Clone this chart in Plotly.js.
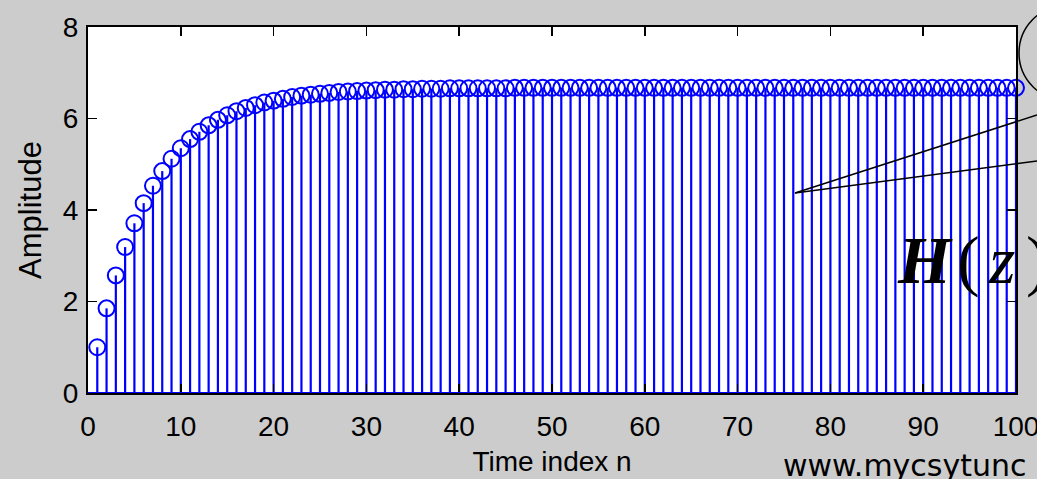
<!DOCTYPE html>
<html>
<head>
<meta charset="utf-8">
<script src="https://cdn.plot.ly/plotly-3.0.1.min.js"></script>
<style>
  html, body { margin: 0; padding: 0; background: #cccccc; }
  #chart { width: 1037px; height: 479px; }
</style>
</head>
<body>
<div id="chart"></div>
<script>
// ---- data ----
const timeIndex = Array.from({length: 100}, (_, i) => i + 1);
const amplitude = [
  1.00, 1.85, 2.57, 3.19, 3.71, 4.15, 4.53, 4.85, 5.12, 5.35,
  5.55, 5.71, 5.85, 5.97, 6.07, 6.16, 6.23, 6.29, 6.35, 6.39,
  6.43, 6.47, 6.50, 6.52, 6.54, 6.56, 6.58, 6.59, 6.60, 6.61,
  6.62, 6.63, 6.63, 6.64, 6.64, 6.65, 6.65, 6.65, 6.66, 6.66,
  6.66, 6.66, 6.66, 6.66, 6.66, 6.67, 6.67, 6.67, 6.67, 6.67,
  6.67, 6.67, 6.67, 6.67, 6.67, 6.67, 6.67, 6.67, 6.67, 6.67,
  6.67, 6.67, 6.67, 6.67, 6.67, 6.67, 6.67, 6.67, 6.67, 6.67,
  6.67, 6.67, 6.67, 6.67, 6.67, 6.67, 6.67, 6.67, 6.67, 6.67,
  6.67, 6.67, 6.67, 6.67, 6.67, 6.67, 6.67, 6.67, 6.67, 6.67,
  6.67, 6.67, 6.67, 6.67, 6.67, 6.67, 6.67, 6.67, 6.67, 6.67
];
const xTicks = [0, 10, 20, 30, 40, 50, 60, 70, 80, 90, 100];
const yTicks = [0, 2, 4, 6, 8];
const xLabel = 'Time index n';
const yLabel = 'Amplitude';
const formulaText = ['H', '(', 'z', ')'];
const urlText = 'www.mycsytunc';

// ---- geometry helpers (pixel -> paper) ----
const W = 1037, H = 479;
const M = {l: 88, r: 21, t: 27, b: 86};
const PW = W - M.l - M.r, PH = H - M.t - M.b;
const px = x => (x - M.l) / PW;
const py = y => (H - M.b - y) / PH;

// stems built from the data
const stemX = [], stemY = [];
timeIndex.forEach((n, i) => { stemX.push(n, n, null); stemY.push(0, amplitude[i], null); });

const BLUE = '#0000ff';
const sans = '"Liberation Sans", Arial, sans-serif';
const tickFont = {family: sans, size: 28, color: '#000'};
const xTitleFont = {family: sans, size: 28, color: '#000'};
const yTitleFont = {family: sans, size: 31, color: '#000'};

const traces = [
  {x: stemX, y: stemY, mode: 'lines', type: 'scatter', line: {color: BLUE, width: 2.2}, hoverinfo: 'skip', showlegend: false},
  {x: timeIndex, y: amplitude, mode: 'markers', type: 'scatter',
   marker: {symbol: 'circle-open', size: 16, color: BLUE, line: {color: BLUE, width: 2}},
   showlegend: false, cliponaxis: false}
];

const black = {color: '#000', width: 1.5};
const shapes = [
  {type: 'line', xref: 'x', yref: 'y', x0: 0, x1: 100, y0: 0, y1: 0, line: {color: BLUE, width: 2}},
  {type: 'circle', xref: 'paper', yref: 'paper', x0: px(1019), x1: px(1111), y0: py(100), y1: py(6), line: {color: '#000', width: 1.5}},
  {type: 'line', xref: 'paper', yref: 'paper', x0: px(795), y0: py(193), x1: px(1037), y1: py(115), line: black},
  {type: 'line', xref: 'paper', yref: 'paper', x0: px(795), y0: py(193), x1: px(1037), y1: py(161), line: black}
];

const serif = '"Liberation Serif", "Times New Roman", serif';
const fSerif = {family: serif, size: 68, color: '#000'};
const annotations = [
  {xref: 'paper', yref: 'paper', x: px(895), y: py(300), xanchor: 'left', yanchor: 'bottom', showarrow: false,
   text: '<b><i>' + formulaText[0] + '</i></b>', font: fSerif},
  {xref: 'paper', yref: 'paper', x: px(955), y: py(300), xanchor: 'left', yanchor: 'bottom', showarrow: false,
   text: formulaText[1], font: fSerif},
  {xref: 'paper', yref: 'paper', x: px(986), y: py(300), xanchor: 'left', yanchor: 'bottom', showarrow: false,
   text: '<i>' + formulaText[2] + '</i>', font: fSerif},
  {xref: 'paper', yref: 'paper', x: px(1024), y: py(300), xanchor: 'left', yanchor: 'bottom', showarrow: false,
   text: formulaText[3], font: fSerif},
  {xref: 'paper', yref: 'paper', x: px(781), y: py(485), xanchor: 'left', yanchor: 'bottom', showarrow: false,
   text: urlText, font: {family: '"DejaVu Sans", sans-serif', size: 30, color: '#000'}}
];

const layout = {
  width: W, height: H,
  margin: M,
  paper_bgcolor: '#cccccc',
  plot_bgcolor: '#ffffff',
  showlegend: false,
  xaxis: {
    range: [0, 100], tickmode: 'array', tickvals: xTicks, ticktext: xTicks.map(String),
    ticks: 'inside', ticklen: 9, tickwidth: 1.5, tickcolor: '#000',
    showline: true, linecolor: '#000', linewidth: 2, mirror: 'ticks',
    showgrid: false, zeroline: false, tickfont: tickFont, ticklabelstandoff: 7,
    ticklabeloverflow: 'allow',
    title: {text: xLabel, font: xTitleFont, standoff: 11}
  },
  yaxis: {
    range: [0, 8], tickmode: 'array', tickvals: yTicks, ticktext: yTicks.map(String),
    ticks: 'inside', ticklen: 9, tickwidth: 1.5, tickcolor: '#000',
    showline: true, linecolor: '#000', linewidth: 2, mirror: 'ticks',
    showgrid: false, zeroline: false, tickfont: tickFont, ticklabelstandoff: 2,
    ticklabeloverflow: 'allow',
    title: {text: yLabel, font: yTitleFont, standoff: 12}
  },
  shapes: shapes,
  annotations: annotations
};

Plotly.newPlot('chart', traces, layout, {displayModeBar: false, staticPlot: true});
</script>
</body>
</html>
